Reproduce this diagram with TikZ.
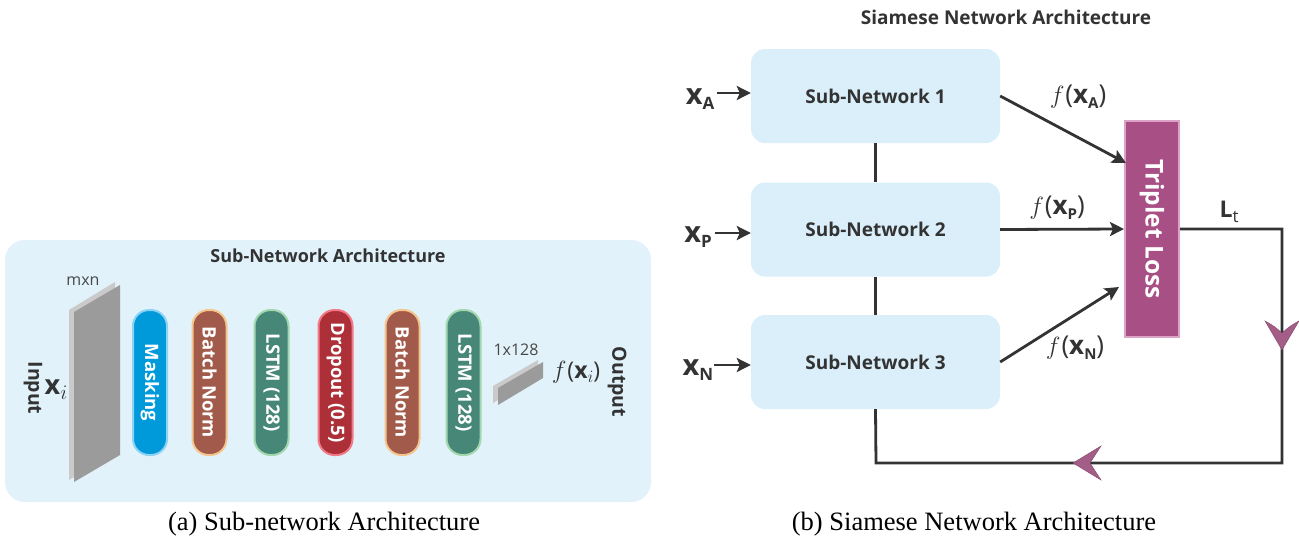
\documentclass[tikz,border=0pt]{standalone}
\usepackage{fontspec}
\setmainfont{Open Sans}
\newfontfamily\capfont{Liberation Serif}
\usetikzlibrary{arrows.meta,calc}
\definecolor{panel}{HTML}{E1F2FB}
\definecolor{sboxc}{HTML}{DAEFFA}
\definecolor{txt}{HTML}{333333}
\definecolor{maskc}{HTML}{0099DA}\definecolor{maskb}{HTML}{8DD3F3}
\definecolor{bnc}{HTML}{A25B4B}\definecolor{bnb}{HTML}{F6C58E}
\definecolor{lstmc}{HTML}{478777}\definecolor{lstmb}{HTML}{A3D7AE}
\definecolor{dropc}{HTML}{AD2F37}\definecolor{dropb}{HTML}{F27986}
\definecolor{slabf}{HTML}{9B9B9B}\definecolor{slabe}{HTML}{CACACA}
\definecolor{tlc}{HTML}{A84F86}\definecolor{tlb}{HTML}{DCA3C6}
\definecolor{headc}{HTML}{A35D86}
\newcommand\fsz[1]{\fontsize{#1}{#1}\selectfont}
\newcommand\subx[2]{\textbf{x}\raisebox{-5pt}{\fsz{#2}\bfseries #1}}
\newcommand\fxl[1]{$f$\kern1pt(\subx{#1}{15})}
\begin{document}
\begin{tikzpicture}[x=1pt,y=-1pt,
  pillbox/.style={draw, line width=2pt, rounded corners=16pt, minimum width=34pt, minimum height=145pt, inner sep=0pt, text=white, font=\bfseries\fsz{18.5}},
  sbox/.style={fill=sboxc, rounded corners=14pt, minimum width=249pt, minimum height=94pt, inner sep=0pt, text=txt, font=\bfseries\fsz{19}},
  tlbox/.style={fill=tlc, draw=tlb, line width=2pt, minimum width=54pt, minimum height=216pt, inner sep=0pt, text=white, font=\bfseries\fsz{24.5}},
  lbl/.style={text=txt, inner sep=0pt},
  conn/.style={draw=txt, line width=2.8pt},
  arr/.style={conn, -{Stealth[length=14pt,width=14pt,inset=3pt]}},
  head/.style={fill=headc, draw=headc!80!black, line width=0.4pt}]
\fill[white] (0,0) rectangle (1299,544);
\useasboundingbox (0,0) rectangle (1299,544);

% ---------- left panel ----------
\fill[panel, rounded corners=20pt] (5,240) rectangle (651,502);
\node[lbl, font=\bfseries\fsz{18}] (t1) at (328,256) {Sub-Network Architecture};
% big slab
\fill[slabe] (69,310) -- (115,282) -- (115,453) -- (69,480) -- cycle;
\fill[slabf] (74,312) -- (120,285) -- (120,455) -- (74,482) -- cycle;
\node[lbl, font=\fsz{16}, text=txt!90] (mxn) at (83,281) {mxn};
\node[lbl, font=\bfseries\fsz{19.5}] (inp) at (33,388) {\rotatebox{-90}{Input}};
\node[lbl, font=\fsz{27}] (xi) at (56,390) {\textbf{x}\raisebox{-5pt}{\fsz{20}$i$}};
% layers
\node[pillbox, fill=maskc, draw=maskb] (l1) at (150,382.5) {\rotatebox{-90}{Masking}};
\node[pillbox, fill=bnc, draw=bnb] (l2) at (209.5,382.5) {\rotatebox{-90}{Batch Norm}};
\node[pillbox, fill=lstmc, draw=lstmb] (l3) at (271.5,382.5) {\rotatebox{-90}{LSTM (128)}};
\node[pillbox, fill=dropc, draw=dropb] (l4) at (335.5,382.5) {\rotatebox{-90}{Dropout (0.5)}};
\node[pillbox, fill=bnc, draw=bnb] (l5) at (402.5,382.5) {\rotatebox{-90}{Batch Norm}};
\node[pillbox, fill=lstmc, draw=lstmb] (l6) at (463.5,382.5) {\rotatebox{-90}{LSTM (128)}};
% small slab
\fill[slabe] (493,386) -- (538,360) -- (538,376) -- (493,403) -- cycle;
\fill[slabf] (498,388) -- (543,362) -- (543,378) -- (498,405) -- cycle;
\node[lbl, font=\fsz{16}, text=txt!90] (o128) at (516,350) {1x128};
\node[lbl, font=\fsz{23}] (fxi) at (576,372) {$f$\kern1pt(\textbf{x}\raisebox{-4pt}{\fsz{17}$i$})};
\node[lbl, font=\bfseries\fsz{19.5}] (outp) at (617,382) {\rotatebox{-90}{Output}};
\node[font=\capfont\fsz{26.5}, inner sep=0pt] (capa) at (324,524) {(a) Sub-network Architecture};

% ---------- right panel ----------
\node[lbl, font=\bfseries\fsz{19}] (t2) at (1006,17) {Siamese Network Architecture};
\node[sbox] (b1) at (875.5,96) {Sub-Network 1};
\node[sbox] (b2) at (875.5,229.5) {Sub-Network 2};
\node[sbox] (b3) at (875.5,362) {Sub-Network 3};
\node[tlbox] (tl) at (1152,229) {\rotatebox{-90}{Triplet Loss}};

\node[lbl, font=\fsz{29}] (xa) at (700,99) {\subx{A}{17}};
\node[lbl, font=\fsz{29}] (xp) at (698,237) {\subx{P}{17}};
\node[lbl, font=\fsz{29}] (xn) at (698,370) {\subx{N}{17}};
\draw[arr] (717,93) -- (b1.west |- 0,93);
\draw[arr] (715,233) -- (b2.west |- 0,233);
\draw[arr] (714,365) -- (b3.west |- 0,365);

\draw[conn] (b1.south) -- (b2.north);
\draw[conn] (b2.south) -- (b3.north);

\draw[arr] (b1.east) -- ($(tl.west)+(2,-66)$);
\draw[arr] (b2.east) -- (tl.west);
\draw[arr] (b3.east) -- ($(tl.west)+(-5,58)$);

\node[lbl, font=\fsz{26}] (fa) at (1078,97) {\fxl{A}};
\node[lbl, font=\fsz{26}] (fp) at (1057,208) {\fxl{P}};
\node[lbl, font=\fsz{26}] (fn) at (1075,348) {\fxl{N}};
\node[lbl, font=\fsz{23}] (lt) at (1229,212) {\textbf{L}\raisebox{-5pt}{\fsz{17}t}};

\coordinate (c1) at (1282,229);
\coordinate (c2) at (1282,463);
\coordinate (c3) at (876,463);
\draw[conn, line join=miter] (tl.east) -- (c1) -- (c2) -- (c3) -- (b3.south);
% purple arrowheads
\filldraw[head] (1282,350) -- (1265,321) .. controls (1274,326) .. (1282,333) .. controls (1290,326) .. (1299,321) -- cycle;
\filldraw[head] (1073,463) -- (1101,446) .. controls (1096,455) .. (1090,463) .. controls (1096,471) .. (1101,480) -- cycle;

\node[font=\capfont\fsz{26.5}, inner sep=0pt] (capb) at (974,524) {(b) Siamese Network Architecture};
\end{tikzpicture}
\end{document}
